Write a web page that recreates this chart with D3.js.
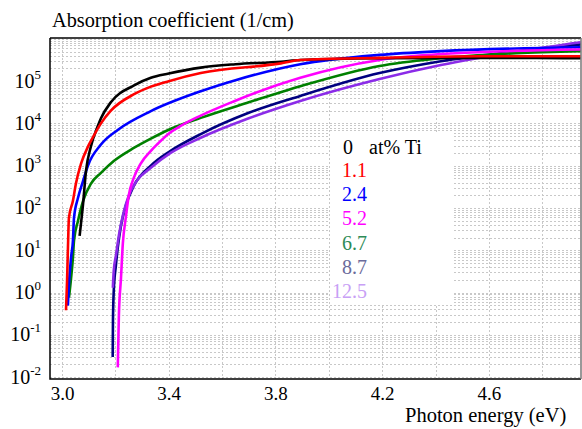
<!DOCTYPE html>
<html>
<head>
<meta charset="utf-8">
<script src="https://cdn.jsdelivr.net/npm/d3@7"></script>
<style>
  body { margin: 0; background: #fff; }
  svg text { font-family: "Liberation Serif", "Times New Roman", serif; }
</style>
</head>
<body>
<div id="field"></div>
<script>

// data: photon energy (eV) and absorption coefficient (1/cm)

const seriesNames = ["0", "1.1", "2.4", "5.2", "6.7", "8.7", "12.5"];
const lineColors = ["#000000", "#ff0000", "#0000ff", "#ff00ff", "#008000", "#000080", "#8b2be8"];
const legendColors = ["#000000", "#ff0000", "#0000ff", "#ff00ff", "#2e8b57", "#6b6b9b", "#c8a0f5"];

const energy0 = [3.066, 3.079, 3.090, 3.108, 3.135, 3.146, 3.183, 3.27, 3.333, 3.40, 3.52, 3.65, 3.82, 3.893, 4.19, 4.57, 4.944];
const alpha0 = [22, 126, 760, 2800, 8900, 13200, 31600, 79400, 120000, 151000, 209000, 251000, 288000, 316000, 347000, 355000, 347000];

const energy1 = [3.015, 3.019, 3.022, 3.026, 3.041, 3.052, 3.071, 3.097, 3.108, 3.146, 3.183, 3.27, 3.333, 3.40, 3.52, 3.82, 3.893, 4.19, 4.57, 4.944];
const alpha1 = [0.38, 1.9, 9.8, 59, 148, 372, 1100, 2800, 3800, 10000, 20000, 49000, 74000, 100000, 155000, 263000, 316000, 355000, 389000, 389000];

const energy2 = [3.022, 3.026, 3.034, 3.041, 3.045, 3.060, 3.079, 3.097, 3.146, 3.21, 3.333, 3.52, 3.65, 3.893, 4.19, 4.42, 4.944];
const alpha2 = [0.49, 1.6, 6.8, 17, 59, 174, 437, 1000, 3160, 7100, 19500, 57500, 105000, 251000, 417000, 513000, 631000];

const energy3 = [3.209, 3.213, 3.221, 3.228, 3.239, 3.250, 3.269, 3.295, 3.333, 3.359, 3.396, 3.45, 3.508, 3.643, 3.893, 4.19, 4.42, 4.944];
const alpha3 = [0.017, 0.26, 2.2, 14.5, 59, 195, 513, 1120, 2240, 3310, 5500, 9100, 14100, 33100, 120000, 316000, 437000, 562000];

const energy4 = [3.026, 3.034, 3.041, 3.045, 3.060, 3.079, 3.108, 3.146, 3.194, 3.269, 3.333, 3.396, 3.52, 3.70, 3.893, 4.19, 4.40, 4.70, 4.944];
const alpha4 = [0.76, 2.2, 6.8, 17, 50, 148, 372, 676, 1290, 2630, 4370, 6900, 13500, 31600, 75900, 229000, 339000, 457000, 513000];

const energy5 = [3.190, 3.191, 3.194, 3.202, 3.209, 3.221, 3.239, 3.269, 3.333, 3.407, 3.52, 3.70, 3.893, 4.19, 4.42, 4.70, 4.944];
const alpha5 = [0.03, 0.22, 1.12, 4.4, 11.5, 38, 112, 331, 1000, 2240, 5600, 17800, 44700, 155000, 295000, 501000, 741000];

const energy6 = [3.1905, 3.194, 3.202, 3.213, 3.228, 3.250, 3.280, 3.333, 3.407, 3.52, 3.70, 3.893, 4.19, 4.42, 4.716, 4.944];
const alpha6 = [1.3, 3.3, 7.4, 22, 66, 195, 437, 891, 2000, 4570, 13200, 33900, 112000, 240000, 513000, 832000];

const energies = [energy0, energy1, energy2, energy3, energy4, energy5, energy6];
const alphas = [alpha0, alpha1, alpha2, alpha3, alpha4, alpha5, alpha6];

const xTicks = [3.0, 3.4, 3.8, 4.2, 4.6];
const xGrid = [3.0, 3.2, 3.4, 3.6, 3.8, 4.0, 4.2, 4.4, 4.6, 4.8];
const yExponents = [-2, -1, 0, 1, 2, 3, 4, 5];

const yTitle = "Absorption coefficient (1/cm)";
const xTitle = "Photon energy (eV)";
const legendUnit = "at% Ti";

// sizes

const width = 582;
const height = 429;
const plotLeft = 50, plotRight = 581, plotTop = 38, plotBottom = 379;

const xScale = d3.scaleLinear()
    .domain([2.955, 4.945])
    .range([plotLeft, plotRight]);

const yScale = d3.scaleLog()
    .domain([Math.pow(10, -2.045), Math.pow(10, 6.02)])
    .range([plotBottom, plotTop]);

const svg = d3.select("#field")
    .append("svg")
    .attr("width", width)
    .attr("height", height);

// grid

const minorValues = [];
for (let e = -3; e <= 6; e++) {
    for (let m = 1; m <= 9; m++) {
        const v = m * Math.pow(10, e);
        if (v >= yScale.domain()[0] && v <= yScale.domain()[1]) minorValues.push(v);
    }
}

svg.append("g").selectAll("line")
    .data(minorValues)
    .enter().append("line")
    .attr("x1", plotLeft).attr("x2", plotRight)
    .attr("y1", function(d) { return Math.round(yScale(d)) + 0.5; })
    .attr("y2", function(d) { return Math.round(yScale(d)) + 0.5; })
    .attr("stroke", "#c8c8c8")
    .attr("stroke-dasharray", "2,2");

svg.append("g").selectAll("line")
    .data(xGrid)
    .enter().append("line")
    .attr("y1", plotTop).attr("y2", plotBottom)
    .attr("x1", function(d) { return Math.round(xScale(d)) + 0.5; })
    .attr("x2", function(d) { return Math.round(xScale(d)) + 0.5; })
    .attr("stroke", "#c8c8c8")
    .attr("stroke-dasharray", "2,2");

// legend box sits under the curves

svg.append("rect")
    .attr("x", 330).attr("y", 133)
    .attr("width", 122).attr("height", 172)
    .attr("fill", "#fff");

// curves

const line = d3.line()
    .x(function(d) { return xScale(d[0]); })
    .y(function(d) { return yScale(d[1]); })
    .curve(d3.curveMonotoneX);

const drawOrder = [5, 6, 4, 2, 3, 0, 1];

svg.append("g").selectAll("path")
    .data(drawOrder)
    .enter().append("path")
    .attr("d", function(i) { return line(d3.zip(energies[i], alphas[i])); })
    .attr("fill", "none")
    .attr("stroke", function(i) { return lineColors[i]; })
    .attr("stroke-width", 2.6)
    .attr("stroke-linejoin", "round");

// frame

svg.append("path")
    .attr("d", "M" + plotLeft + "," + plotTop + "V" + plotBottom + "H" + plotRight)
    .attr("fill", "none")
    .attr("stroke", "#000")
    .attr("stroke-width", 1.5);

svg.append("line")
    .attr("x1", plotLeft).attr("x2", plotRight)
    .attr("y1", plotTop).attr("y2", plotTop)
    .attr("stroke", "#000").attr("stroke-width", 1.5);

svg.append("line")
    .attr("x1", plotRight).attr("x2", plotRight)
    .attr("y1", plotTop).attr("y2", plotBottom)
    .attr("stroke", "#777").attr("stroke-width", 1.5);

// x axis labels

const xAxis = d3.axisBottom(xScale)
    .tickValues(xTicks)
    .tickFormat(d3.format(".1f"))
    .tickSize(0)
    .tickPadding(8);

const gx = svg.append("g")
    .attr("transform", "translate(0," + plotBottom + ")")
    .call(xAxis);
gx.select(".domain").remove();
gx.selectAll("text")
    .attr("font-size", 19)
    .attr("fill", "#000")
    .style("font-family", "'Liberation Serif', serif");

svg.append("text")
    .attr("x", 405)
    .attr("y", 422)
    .attr("font-size", 20.5)
    .text(xTitle);

// y axis labels

const yLabels = svg.append("g").selectAll("text")
    .data(yExponents)
    .enter().append("text")
    .attr("x", 41)
    .attr("y", function(d) { return yScale(Math.pow(10, d)) + 6.5; })
    .attr("text-anchor", "end")
    .attr("font-size", 20);

yLabels.append("tspan").text("10");
yLabels.append("tspan")
    .attr("dy", -9)
    .attr("font-size", 13)
    .text(function(d) { return d; });

svg.append("text")
    .attr("x", 52)
    .attr("y", 27)
    .attr("font-size", 20.3)
    .text(yTitle);

// legend

svg.append("text")
    .attr("x", 343)
    .attr("y", 154)
    .attr("font-size", 20)
    .attr("fill", legendColors[0])
    .text(seriesNames[0]);

svg.append("text")
    .attr("x", 369)
    .attr("y", 154)
    .attr("font-size", 20)
    .attr("fill", "#000")
    .text(legendUnit);

svg.append("g").selectAll("text")
    .data(seriesNames.slice(1))
    .enter().append("text")
    .attr("x", 367)
    .attr("y", function(d, i) { return 177 + i * 24.2; })
    .attr("text-anchor", "end")
    .attr("font-size", 20)
    .attr("fill", function(d, i) { return legendColors[i + 1]; })
    .text(function(d) { return d; });

</script>
</body>
</html>
